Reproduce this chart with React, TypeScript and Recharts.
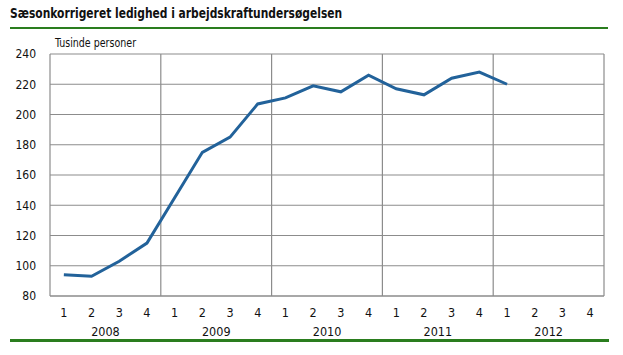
import { LineChart, Line, XAxis, YAxis, CartesianGrid, ReferenceLine } from 'recharts';

const years = ['2008', '2009', '2010', '2011', '2012'];
const quarters = ['1', '2', '3', '4'];
// Tusinde personer, sæsonkorrigeret (2012 Q2-Q4 not yet published)
const unemployed = [94, 93, 103, 115, 145, 175, 185, 207, 211, 219, 215, 226, 217, 213, 224, 228, 220];
const yTicks = [80, 100, 120, 140, 160, 180, 200, 220, 240];

const data = years.flatMap((year, yi) =>
  quarters.map((q, qi) => {
    const i = yi * 4 + qi;
    return { pos: i + 0.5, year, quarter: q, value: i < unemployed.length ? unemployed[i] : null };
  })
);

const FONT = '"DejaVu Sans Condensed", "Liberation Sans", Arial, sans-serif';
const GRID = '#8c8c8c';
const GREEN = '#2a7d1e';

function QuarterTick(props: any) {
  const { x, y, payload } = props;
  const row = data[Math.round(payload.value - 0.5)];
  return (
    <g>
      <text x={x} y={y} dy="0.71em" textAnchor="middle" fontSize={12.5} fill="#111" fontFamily={FONT}>
        {row.quarter}
      </text>
      {row.quarter === '2' && (
        <text x={x + 13.9} y={y + 19} dy="0.71em" textAnchor="middle" fontSize={12.5} fill="#111" fontFamily={FONT}>
          {row.year}
        </text>
      )}
    </g>
  );
}

export default function App() {
  return (
    <div style={{ position: 'absolute', left: 0, top: 0, width: 623, height: 355, background: '#fff' }}>
      <div
        style={{
          position: 'absolute',
          left: 10,
          top: 5,
          fontFamily: FONT,
          fontWeight: 'bold',
          fontSize: 14,
          color: '#111',
          whiteSpace: 'nowrap',
          transform: 'scaleX(0.85)',
          transformOrigin: 'left top',
        }}
      >
        Sæsonkorrigeret ledighed i arbejdskraftundersøgelsen
      </div>
      <div style={{ position: 'absolute', left: 10, top: 27, width: 598, height: 2, background: GREEN }} />
      <div
        style={{
          position: 'absolute',
          left: 55,
          top: 36,
          fontFamily: FONT,
          fontSize: 12,
          color: '#111',
          whiteSpace: 'nowrap',
          transform: 'scaleX(0.88)',
          transformOrigin: 'left top',
        }}
      >
        Tusinde personer
      </div>
      <div style={{ position: 'absolute', left: 10, top: 339, width: 599, height: 3, background: GREEN }} />
      <LineChart width={623} height={355} data={data} margin={{ top: 54, right: 19, bottom: 0, left: 0 }}>
        <CartesianGrid vertical={false} stroke={GRID} strokeWidth={1.2} />
        <XAxis
          dataKey="pos"
          type="number"
          domain={[0, 20]}
          ticks={data.map((d) => d.pos)}
          interval={0}
          height={59}
          tickLine={false}
          tickSize={0}
          tickMargin={12}
          axisLine={{ stroke: GRID, strokeWidth: 1.2 }}
          tick={<QuarterTick />}
        />
        <YAxis
          domain={[80, 240]}
          ticks={yTicks}
          interval={0}
          width={50}
          tickLine={false}
          tickSize={0}
          tickMargin={14}
          axisLine={{ stroke: GRID, strokeWidth: 1.2 }}
          tick={{ fontSize: 12, fill: '#111', fontFamily: FONT }}
        />
        {[4, 8, 12, 16, 20].map((x) => (
          <ReferenceLine key={x} x={x} stroke={GRID} strokeWidth={1.2} />
        ))}
        <Line
          dataKey="value"
          stroke="#22629a"
          strokeWidth={3}
          dot={false}
          connectNulls={false}
          isAnimationActive={false}
        />
      </LineChart>
    </div>
  );
}
